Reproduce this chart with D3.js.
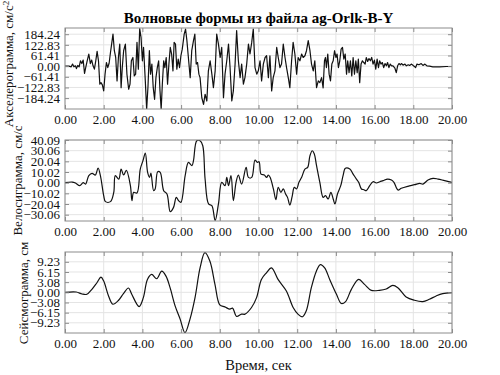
<!DOCTYPE html>
<html lang="ru">
<head>
<meta charset="UTF-8">
<title>Волновые формы</title>
<script src="https://cdn.jsdelivr.net/npm/d3@7/dist/d3.min.js"></script>
<style>
  body { margin: 0; background: #fff; }
  svg { display: block; font-family: "Liberation Serif", "DejaVu Serif", serif; }
  svg text { font-family: "Liberation Serif", "DejaVu Serif", serif; }
</style>
</head>
<body>
<div id="chart"></div>
<script>
// время, с — общие деления оси X
var xTicks = [0, 2, 4, 6, 8, 10, 12, 14, 16, 18, 20];

// акселерограмма (см/с^2)
var accTicks = [-184.24, -122.83, -61.41, 0, 61.41, 122.83, 184.24];
var accT = [0, 0.20, 0.32, 0.39, 0.46, 0.54, 0.59, 0.66, 0.73, 0.80, 0.87, 0.94, 1.01, 1.07, 1.14, 1.23, 1.31, 1.38, 1.45, 1.52,
  1.59, 1.66, 1.73, 1.80, 1.86, 1.93, 2.00, 2.07, 2.14, 2.21, 2.28, 2.35, 2.41, 2.48, 2.55, 2.62, 2.69, 2.76, 2.83, 2.90,
  2.96, 3.03, 3.12, 3.20, 3.29, 3.36, 3.43, 3.51, 3.58, 3.65, 3.72, 3.79, 3.86, 3.93, 4.00, 4.06, 4.15, 4.22, 4.29, 4.36,
  4.42, 4.49, 4.56, 4.63, 4.70, 4.77, 4.84, 4.91, 4.97, 5.03, 5.10, 5.16, 5.23, 5.30, 5.37, 5.44, 5.51, 5.58, 5.64, 5.71,
  5.78, 5.85, 5.92, 5.99, 6.06, 6.16, 6.23, 6.30, 6.40, 6.47, 6.55, 6.64, 6.71, 6.78, 6.85, 6.92, 6.98, 7.07, 7.16, 7.24,
  7.33, 7.41, 7.50, 7.59, 7.67, 7.76, 7.84, 7.93, 8.02, 8.10, 8.19, 8.27, 8.36, 8.45, 8.53, 8.62, 8.70, 8.79, 8.87, 8.96,
  9.05, 9.13, 9.22, 9.30, 9.39, 9.48, 9.56, 9.65, 9.73, 9.82, 9.91, 9.99, 10.08, 10.16, 10.25, 10.34, 10.42, 10.51, 10.59, 10.68,
  10.76, 10.85, 10.94, 11.02, 11.11, 11.19, 11.28, 11.37, 11.45, 11.54, 11.62, 11.71, 11.79, 11.88, 11.97, 12.05, 12.14, 12.23, 12.31, 12.40,
  12.48, 12.57, 12.66, 12.74, 12.83, 12.91, 13.00, 13.09, 13.17, 13.26, 13.34, 13.41, 13.46, 13.51, 13.58, 13.65, 13.72, 13.79, 13.86, 13.93,
  14.00, 14.06, 14.13, 14.20, 14.27, 14.34, 14.41, 14.48, 14.55, 14.61, 14.68, 14.75, 14.82, 14.89, 14.96, 15.03, 15.10, 15.16, 15.23, 15.30,
  15.37, 15.44, 15.51, 15.57, 15.64, 15.71, 15.78, 15.85, 15.92, 15.99, 16.06, 16.13, 16.20, 16.26, 16.33, 16.40, 16.47, 16.54, 16.61, 16.67,
  16.74, 16.81, 16.88, 16.95, 17.05, 17.12, 17.19, 17.26, 17.33, 17.40, 17.47, 17.57, 17.64, 17.74, 17.81, 17.91, 18.01, 18.12, 18.19, 18.29,
  18.41, 18.50, 18.60, 18.70, 18.84, 19.01, 19.36, 19.71, 20.00];
var accV = [0, 0, -4, 12, -4, 2, -14, 4, -4, 31, 15, 35, -42, -8, 27, 70, 15, 35, 2, -17,
  31, 85, 31, -104, -95, -108, -143, -46, 21, -8, 17, 79, 127, 185, 89, 50, -85, 50, 127, -124,
  -8, 89, 127, -46, -133, -104, 31, 50, -56, -46, 137, -17, 216, 166, 31, 108, -85, -249, -114, 89,
  -46, 12, -124, -191, -66, -8, 31, -143, -249, -104, 31, -8, 50, -104, 12, 108, 70, -27, 137, 127,
  -17, 41, -8, 60, 98, 185, 214, 147, 20, -66, 89, 147, 185, 12, 21, -46, -66, -182, -220, -162,
  -201, -27, 31, -46, -124, -27, 185, 127, 50, 108, -182, -46, 31, 127, -8, -201, -143, 12, 205, 31,
  -66, 12, -104, -66, 12, 127, 70, 137, 214, -8, -46, -27, 31, -85, 12, 50, 60, -66, 60, -143,
  -66, -27, 108, 50, -8, 12, 127, 50, -8, -66, -124, 31, 137, 70, -46, 50, 31, 70, 50, 60,
  89, 147, 89, 12, -27, 31, -124, -85, -95, -66, -125, 31, 50, -8, 70, -46, -85, 12, 31, 89,
  50, 70, -8, 31, 98, 108, 41, 70, -46, 31, -37, 31, -56, 50, -46, 31, -37, 41, -95, 12,
  31, 21, 12, 50, 27, 44, 31, 50, 12, 35, -17, 41, -8, 31, 12, 21, -8, 15, 2, 21,
  -8, 12, 2, 2, -12, -37, 2, 15, 8, 15, 6, 12, 2, 8, 4, 12, 2, -8, 12, 8,
  15, 4, 12, 2, 0, -4, -4, -2, -2];

// велосиграмма (см/с)
var velTicks = [-30.06, -20.04, -10.02, 0, 10.02, 20.04, 30.06, 40.09];
var velT = [0, 0.37, 0.54, 0.76, 0.94, 1.06, 1.23, 1.40, 1.57, 1.71, 1.83, 2.00, 2.09, 2.35, 2.52, 2.60, 2.78, 2.90, 3.03, 3.17,
  3.38, 3.46, 3.55, 3.72, 3.89, 4.03, 4.15, 4.27, 4.37, 4.44, 4.58, 4.66, 4.79, 4.92, 5.10, 5.27, 5.44, 5.61, 5.75, 5.87,
  5.99, 6.21, 6.38, 6.56, 6.64, 6.81, 6.98, 7.12, 7.24, 7.42, 7.59, 7.76, 7.93, 8.10, 8.27, 8.36, 8.45, 8.58, 8.70, 8.84,
  8.96, 9.13, 9.36, 9.48, 9.65, 9.82, 9.94, 10.03, 10.13, 10.30, 10.42, 10.51, 10.60, 10.77, 10.90, 11.02, 11.16, 11.28, 11.40, 11.50,
  11.62, 11.74, 11.85, 11.97, 12.09, 12.23, 12.40, 12.54, 12.66, 12.78, 12.88, 13.00, 13.17, 13.34, 13.46, 13.60, 13.74, 13.86, 13.95, 14.08,
  14.25, 14.37, 14.49, 14.72, 14.89, 15.06, 15.18, 15.32, 15.45, 15.57, 15.75, 15.92, 16.09, 16.27, 16.44, 16.67, 16.87, 17.00, 17.21, 17.38,
  17.72, 18.07, 18.33, 18.50, 18.76, 19.02, 19.28, 19.62, 20.00];
var velV = [0, 0.6, -0.3, -2.8, 0, -1.3, 6.6, 8.8, 7.2, 13.8, 6.6, -12.2, -17.8, -17.8, -9.1, 6.6, 3.4, 12.8, 7.2, 11.6,
  -2.8, -16.9, -9.1, -9.7, 12.8, 20.7, 27.9, 9.7, 5.0, 9.1, -7.5, -5.9, 10.3, 9.7, -7.5, -10.6, -27.2, -23.2, -13.8, -16.9,
  -18.5, 6.6, 19.1, 16.0, 20.7, 39.4, 39.4, 34.7, 3.4, -20.0, -21.6, -35.5, -20.0, 0.3, -2.8, 5.0, -2.8, 6.6, -16.9, 0.3,
  7.2, -1.3, 14.4, 5.0, 5.0, 21.3, 19.1, 19.7, 8.1, 7.2, 5.0, 7.2, 5.0, -5.9, -16.0, -4.4, -9.1, -5.9, -10.6, -13.8,
  -21.0, -12.8, -4.4, -5.9, 0.3, 5.0, 12.8, 14.4, 25.4, 30.0, 27.2, 16.0, 0.3, -13.8, -12.2, -15.3, -9.1, -15.3, -20.0, -10.6,
  -2.8, 6.6, 13.5, 12.8, 8.1, 3.4, 0.3, -5.9, -6.6, -7.5, -2.8, 0.9, -0.3, 0.9, 1.9, 3.4, 2.5, 0.3, -6.9, -5.3,
  -3.4, -1.9, -0.6, -1.3, 2.5, 4.1, 3.4, 1.9, 0.3];

// сейсмограмма (см)
var dispTicks = [-9.23, -6.15, -3.08, 0, 3.08, 6.15, 9.23];
var dispT = [0, 0.58, 0.88, 1.13, 1.39, 1.65, 1.86, 2.00, 2.25, 2.47, 2.77, 3.02, 3.28, 3.45, 3.83, 4.05, 4.26, 4.48, 4.74, 5.00,
  5.22, 5.43, 5.69, 5.95, 6.20, 6.46, 6.72, 6.98, 7.23, 7.49, 7.75, 8.00, 8.26, 8.52, 8.66, 8.87, 9.12, 9.30, 9.64, 9.90,
  10.15, 10.41, 10.67, 11.01, 11.44, 11.79, 12.04, 12.27, 12.47, 12.73, 12.99, 13.20, 13.42, 13.68, 14.03, 14.28, 14.50, 14.80, 15.18, 15.48,
  15.83, 16.25, 16.60, 16.94, 17.20, 17.63, 18.06, 18.49, 18.83, 19.18, 19.52, 20.00];
var dispV = [0, 0.1, -0.5, -0.6, 0.9, 2.9, 4.6, 3.4, -1.1, -3.6, -2.4, -0.4, 1.3, -0.6, -4.3, -1.6, 3.9, 5.4, 4.1, 6.4,
  4.9, 1.4, -4.1, -8.1, -12.2, -8.1, -1.6, 7.4, 12.0, 9.4, 2.4, -3.8, -4.4, -5.1, -4.8, -7.3, -6.6, -6.6, -4.6, -1.6,
  3.9, 5.9, 7.4, 3.9, 0.4, -4.6, -6.6, -7.4, -5.6, 1.4, 6.4, 8.4, 7.4, 3.9, -0.6, -3.4, -2.8, 0.9, 3.9, 2.4,
  0.6, 0.6, 1.0, 2.1, 1.4, -1.4, -2.4, -2.8, -2.1, -1.1, -0.4, -0.1];

var width = 500, height = 375;
var left = 65, right = 452;
var serif = '"Liberation Serif", "DejaVu Serif", serif';

var panels = [
  { t: accT, v: accV, ticks: accTicks, dom: [-247, 220], top: 28, bottom: 109, label: 'Акселерограмма, см/с', sup: '2', lx: 13, ly: 64, curve: d3.curveLinear },
  { t: velT, v: velV, ticks: velTicks, dom: [-36, 40.09], top: 140, bottom: 221, label: 'Велосиграмма, см/с', sup: null, lx: 22, ly: 180.5, curve: d3.curveCatmullRom },
  { t: dispT, v: dispV, ticks: dispTicks, dom: [-12.31, 12.2], top: 252, bottom: 333, label: 'Сейсмограмма, см', sup: null, lx: 28, ly: 293, curve: d3.curveCatmullRom }
];

var svg = d3.select('#chart').append('svg')
  .attr('width', width)
  .attr('height', height);

svg.append('rect').attr('width', width).attr('height', height).attr('fill', '#fff');

var x = d3.scaleLinear().domain([0, 20]).range([left, right]);
var fmt = d3.format('.2f');

panels.forEach(function (p, i) {
  var y = d3.scaleLinear().domain(p.dom).range([p.bottom, p.top]);
  var h = p.bottom - p.top;
  var g = svg.append('g');

  // сетка
  g.append('g').selectAll('line').data(xTicks).enter().append('line')
    .attr('x1', d => x(d)).attr('x2', d => x(d))
    .attr('y1', p.top).attr('y2', p.bottom)
    .attr('stroke', '#e4e4e4').attr('stroke-width', 1);
  g.append('g').selectAll('line').data(p.ticks).enter().append('line')
    .attr('x1', left).attr('x2', right)
    .attr('y1', d => y(d)).attr('y2', d => y(d))
    .attr('stroke', '#e4e4e4').attr('stroke-width', 1);

  // кривая
  var clipId = 'clip' + i;
  svg.append('clipPath').attr('id', clipId).append('rect')
    .attr('x', left).attr('y', p.top).attr('width', right - left).attr('height', h);

  var pts = p.t.map(function (t, k) { return [t, p.v[k]]; });
  var line = d3.line().x(d => x(d[0])).y(d => y(d[1])).curve(p.curve);
  g.append('path').datum(pts)
    .attr('clip-path', 'url(#' + clipId + ')')
    .attr('d', line)
    .attr('fill', 'none')
    .attr('stroke', '#111')
    .attr('stroke-width', 1.2)
    .attr('stroke-linejoin', 'round');

  // оси
  g.append('g').attr('transform', 'translate(0,' + p.bottom + ')')
    .call(d3.axisBottom(x).tickValues(xTicks).tickFormat(fmt).tickSizeInner(-4).tickSizeOuter(0).tickPadding(6));
  g.append('g').attr('transform', 'translate(0,' + p.top + ')')
    .call(d3.axisTop(x).tickValues(xTicks).tickFormat('').tickSizeInner(-4).tickSizeOuter(0));
  g.append('g').attr('transform', 'translate(' + left + ',0)')
    .call(d3.axisLeft(y).tickValues(p.ticks).tickFormat(fmt).tickSizeInner(-4).tickSizeOuter(0).tickPadding(5));
  g.append('g').attr('transform', 'translate(' + right + ',0)')
    .call(d3.axisRight(y).tickValues(p.ticks).tickFormat('').tickSizeInner(-4).tickSizeOuter(0));

  g.selectAll('.domain').remove();
  g.selectAll('g.tick line').attr('stroke', '#8c8c8c');
  g.selectAll('g').attr('font-family', serif).attr('font-size', 13);
  g.selectAll('g.tick text').attr('fill', '#111');

  g.append('rect')
    .attr('x', left).attr('y', p.top).attr('width', right - left).attr('height', h)
    .attr('fill', 'none').attr('stroke', '#8c8c8c').attr('stroke-width', 1);

  // подпись оси Y
  var lab = svg.append('text')
    .attr('transform', 'translate(' + p.lx + ',' + p.ly + ') rotate(-90)')
    .attr('text-anchor', 'middle')
    .attr('font-family', serif)
    .attr('font-size', 13)
    .attr('fill', '#111')
    .text(p.label);
  if (p.sup) {
    lab.append('tspan').attr('dy', '-0.45em').attr('font-size', 9).text(p.sup);
  }
});

// заголовок
svg.append('text')
  .attr('x', (left + right) / 2)
  .attr('y', 23)
  .attr('text-anchor', 'middle')
  .attr('font-family', serif)
  .attr('font-size', 15)
  .attr('font-weight', 'bold')
  .attr('fill', '#000')
  .text('Волновые формы из файла ag-Orlk-B-Y');

// подпись оси X
svg.append('text')
  .attr('x', (left + right) / 2)
  .attr('y', 370)
  .attr('text-anchor', 'middle')
  .attr('font-family', serif)
  .attr('font-size', 14.5)
  .attr('fill', '#111')
  .text('Время, сек');
</script>
</body>
</html>
